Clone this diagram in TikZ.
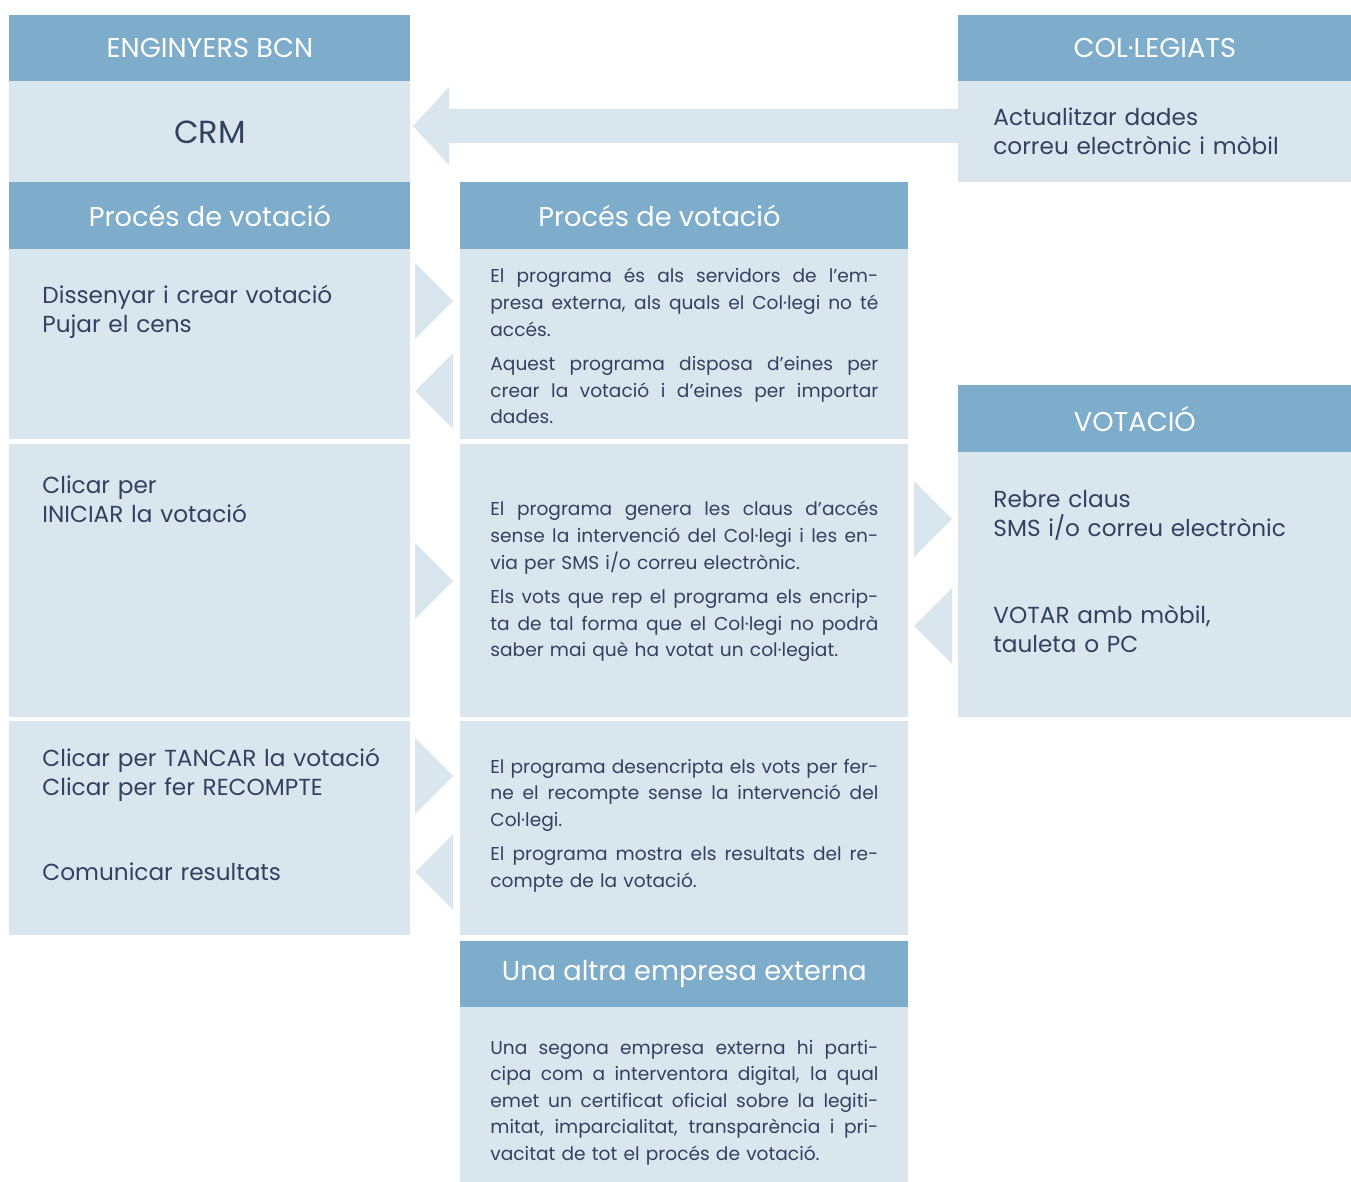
\documentclass[tikz,border=0pt]{standalone}
\usepackage{fontspec}
\setmainfont{Poppins}
\definecolor{hdblue}{RGB}{126,172,203}
\definecolor{paleblue}{RGB}{218,230,238}
\definecolor{ink}{RGB}{50,65,97}
\newcommand{\fullline}[1]{\makebox[194pt][s]{\spaceskip=\fontdimen2\font plus 1fil\relax
	\xspaceskip=\spaceskip #1}}

\begin{document}
\begin{tikzpicture}[x=0.5pt,y=-0.5pt,
	hd/.style = {fill=hdblue, anchor=north west, inner sep=0pt,
		minimum height=33pt, text=white,
		font=\fontsize{13.6}{17}\selectfont},
	pnl/.style = {fill=paleblue, anchor=north west, inner sep=0pt},
	lbl/.style = {anchor=base west, inner sep=0pt, text=ink,
		text width=178pt, align=left,
		font=\fontsize{11.6}{14.5}\selectfont},
	note/.style = {anchor=base west, inner sep=0pt, text=ink,
		text width=194pt, align=left,
		font=\fontsize{9.3}{13.3}\selectfont},
	tip/.style = {fill=paleblue}]
	\useasboundingbox (0,0) rectangle (1351,1182);

	% left column
	\node[hd, minimum width=200.5pt] (engbcn) at (9,15) {ENGINYERS BCN};
	\node[pnl, minimum width=200.5pt, minimum height=50.5pt, text=ink,
		font=\fontsize{16}{18}\selectfont] (crm) at (9,81) {CRM};
	\node[hd, minimum width=200.5pt, minimum height=33.5pt] (procesA) at (9,182) {Procés de votació};
	\node[pnl, minimum width=200.5pt, minimum height=95pt] (crearA) at (9,249) {};
	\node[pnl, minimum width=200.5pt, minimum height=136.5pt] (iniciA) at (9,444) {};
	\node[pnl, minimum width=200.5pt, minimum height=107pt] (tancaA) at (9,721) {};

	% middle column
	\node[hd, minimum width=224pt, minimum height=33.5pt] (procesB) at (460,182) {\hspace*{-25pt}Procés de votació};
	\node[pnl, minimum width=224pt, minimum height=95pt] (crearB) at (460,249) {};
	\node[pnl, minimum width=224pt, minimum height=136.5pt] (iniciB) at (460,444) {};
	\node[pnl, minimum width=224pt, minimum height=107pt] (tancaB) at (460,721) {};
	\node[hd, minimum width=224pt] (altra) at (460,941) {Una altra empresa externa};
	\node[pnl, minimum width=224pt, minimum height=87.5pt] (certif) at (460,1007) {};

	% right column
	\node[hd, minimum width=196.5pt] (collegiats) at (958,15) {COL·LEGIATS};
	\node[pnl, minimum width=196.5pt, minimum height=50.5pt] (dades) at (958,81) {};
	\node[hd, minimum width=196.5pt, minimum height=33.5pt] (votacio) at (958,385) {\hspace*{-20pt}VOTACIÓ};
	\node[pnl, minimum width=196.5pt, minimum height=132.5pt] (vota) at (958,452) {};

	% big arrow to the CRM
	\fill[tip] (958,109) -- (449,109) -- (449,87) -- (413,126) -- (449,165)
		-- (449,143) -- (958,143) -- cycle;
	% small arrow heads
	\foreach \y in {301,581,776}
		\fill[tip] (415,\y-38) -- (453,\y) -- (415,\y+38) -- cycle;
	\foreach \y in {391,872}
		\fill[tip] (453,\y-38) -- (415,\y) -- (453,\y+38) -- cycle;
	\fill[tip] (914,481) -- (952,519) -- (914,557) -- cycle;
	\fill[tip] (952,588) -- (914,626) -- (952,664) -- cycle;

	% texts
	\node[lbl] (dissenyar) at (42,304) {Dissenyar i crear votació\\Pujar el cens};
	\node[lbl] (iniciar) at (42,494) {Clicar per\\INICIAR la votació};
	\node[lbl] (tancar) at (42,766) {Clicar per TANCAR la votació\\Clicar per fer RECOMPTE};
	\node[lbl] (comunicar) at (42,880) {Comunicar resultats};
	\node[lbl] (actualitzar) at (993,126) {Actualitzar dades\\correu electrònic i mòbil};
	\node[lbl] (claus) at (993,508) {Rebre claus\\SMS i/o correu electrònic};
	\node[lbl] (votar) at (993,623) {VOTAR amb mòbil,\\tauleta o PC};

	\node[note] (servidors) at (490,283) {%
		\fullline{El programa és als servidors de l’em-}\\
		\fullline{presa externa, als quals el Col·legi no té}\\
		accés.\\[4pt]
		\fullline{Aquest programa disposa d’eines per}\\
		\fullline{crear la votació i d’eines per importar}\\
		dades.};
	\node[note] (claugen) at (490,516) {%
		\fullline{El programa genera les claus d’accés}\\
		\fullline{sense la intervenció del Col·legi i les en-}\\
		via per SMS i/o correu electrònic.\\[4pt]
		\fullline{Els vots que rep el programa els encrip-}\\
		\fullline{ta de tal forma que el Col·legi no podrà}\\
		saber mai què ha votat un col·legiat.};
	\node[note] (recompte) at (490,773) {%
		\fullline{El programa desencripta els vots per fer-}\\
		\fullline{ne el recompte sense la intervenció del}\\
		Col·legi.\\[4pt]
		\fullline{El programa mostra els resultats del re-}\\
		compte de la votació.};
	\node[note] (interventora) at (490,1054) {%
		\fullline{Una segona empresa externa hi parti-}\\
		\fullline{cipa com a interventora digital, la qual}\\
		\fullline{emet un certificat oficial sobre la legiti-}\\
		\fullline{mitat, imparcialitat, transparència i pri-}\\
		vacitat de tot el procés de votació.};
\end{tikzpicture}
\end{document}
